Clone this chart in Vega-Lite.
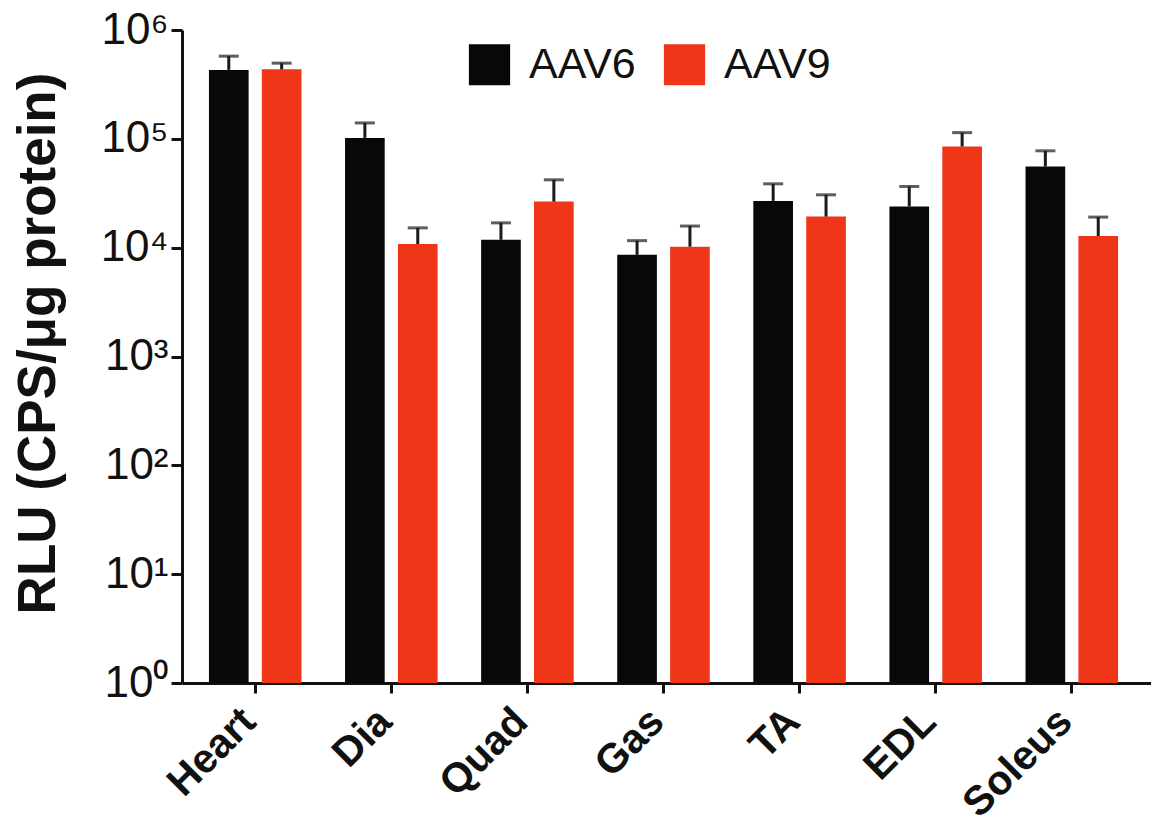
{
  "$schema": "https://vega.github.io/schema/vega-lite/v6.json",
  "autosize": {"type": "none"},
  "width": 969,
  "height": 653,
  "padding": {"left": 182, "top": 30, "right": 0, "bottom": 143},
  "background": "white",
  "config": {
    "view": {"stroke": null},
    "font": "Liberation Sans",
    "axis": {
      "domainColor": "#111111",
      "domainWidth": 3,
      "tickColor": "#111111",
      "tickWidth": 3,
      "grid": false,
      "labelColor": "#111111",
      "titleColor": "#111111"
    }
  },
  "data": {
    "values": [
      {"organ": "Heart", "vector": "AAV6", "value": 430000, "upper": 575000},
      {"organ": "Heart", "vector": "AAV9", "value": 435000, "upper": 496000},
      {"organ": "Dia", "vector": "AAV6", "value": 102000, "upper": 140000},
      {"organ": "Dia", "vector": "AAV9", "value": 10800, "upper": 15200},
      {"organ": "Quad", "vector": "AAV6", "value": 11800, "upper": 16900},
      {"organ": "Quad", "vector": "AAV9", "value": 26500, "upper": 42000},
      {"organ": "Gas", "vector": "AAV6", "value": 8600, "upper": 11600},
      {"organ": "Gas", "vector": "AAV9", "value": 10200, "upper": 15800},
      {"organ": "TA", "vector": "AAV6", "value": 26900, "upper": 38600},
      {"organ": "TA", "vector": "AAV9", "value": 19300, "upper": 30600},
      {"organ": "EDL", "vector": "AAV6", "value": 23900, "upper": 36500},
      {"organ": "EDL", "vector": "AAV9", "value": 85000, "upper": 114000},
      {"organ": "Soleus", "vector": "AAV6", "value": 55700, "upper": 77600},
      {"organ": "Soleus", "vector": "AAV9", "value": 12800, "upper": 19100}
    ]
  },
  "encoding": {
    "x": {
      "field": "organ",
      "type": "nominal",
      "sort": ["Heart", "Dia", "Quad", "Gas", "TA", "EDL", "Soleus"],
      "scale": {"paddingInner": 0.32, "paddingOuter": 0.22, "align": 0.45},
      "axis": {
        "title": null,
        "labelAngle": -45,
        "labelFontSize": 41,
        "labelFontWeight": "bold",
        "tickSize": 10,
        "labelPadding": 8,
        "labelOffset": -20
      }
    },
    "xOffset": {
      "field": "vector",
      "type": "nominal",
      "scale": {"paddingInner": 0.25}
    }
  },
  "layer": [
    {
      "mark": {"type": "bar"},
      "encoding": {
        "y": {
          "field": "value",
          "type": "quantitative",
          "stack": null,
          "scale": {"type": "log", "domain": [1, 1000000]},
          "axis": {
            "values": [1, 10, 100, 1000, 10000, 100000, 1000000],
            "labelExpr": "['10⁰','10¹','10²','10³','10⁴','10⁵','10⁶'][round(log(datum.value)/log(10))]",
            "labelFontSize": 44,
            "tickSize": 11,
            "labelPadding": 3,
            "title": "RLU (CPS/μg protein)",
            "titleFontSize": 53,
            "titleFontWeight": "bold",
            "titleAngle": -90,
            "titleBaseline": "alphabetic",
            "titleAlign": "center",
            "titleX": -128,
            "titleY": 313
          }
        },
        "y2": {"datum": 1},
        "color": {
          "field": "vector",
          "type": "nominal",
          "scale": {"domain": ["AAV6", "AAV9"], "range": ["#070809", "#ef3619"]},
          "legend": {
            "title": null,
            "orient": "none",
            "legendX": 286,
            "legendY": 13,
            "direction": "horizontal",
            "symbolType": "square",
            "symbolSize": 1700,
            "symbolStrokeWidth": 0,
            "labelFontSize": 43,
            "labelOffset": 18,
            "columnPadding": 27,
            "padding": 0,
            "labelColor": "#111111"
          }
        }
      }
    },
    {
      "mark": {"type": "rule", "color": "#1a1a1a", "strokeWidth": 3},
      "encoding": {
        "y": {"field": "value", "type": "quantitative"},
        "y2": {"field": "upper"}
      }
    },
    {
      "mark": {"type": "tick", "color": "#1a1a1a", "thickness": 3, "size": 20, "orient": "horizontal"},
      "encoding": {
        "y": {"field": "upper", "type": "quantitative"}
      }
    }
  ]
}
